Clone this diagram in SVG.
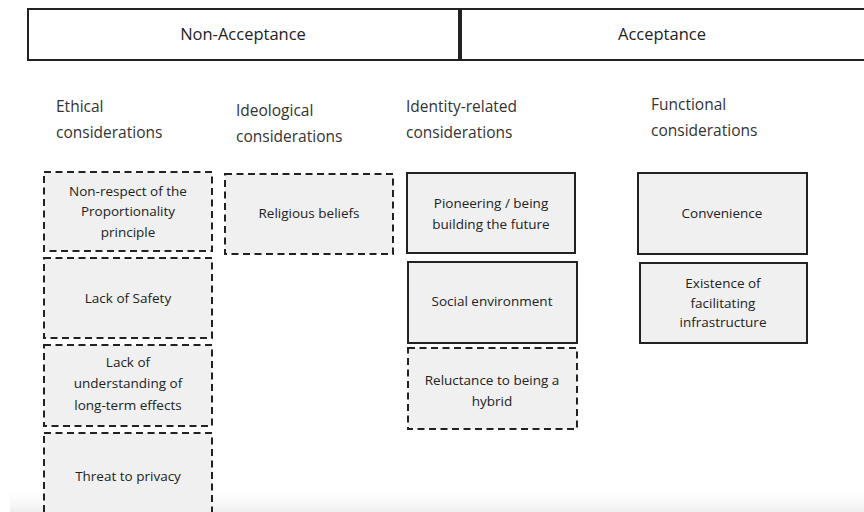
<svg xmlns="http://www.w3.org/2000/svg" width="864" height="512" viewBox="0 0 864 512">
<style>
text{font-family:"Open Sans","Liberation Sans",sans-serif;fill:#222;}
.hdr{font-size:16.5px;text-anchor:middle;}
.col{font-size:15.5px;fill:#333;}
.lbl{font-size:13.5px;text-anchor:middle;}
.hbox{fill:#fff;stroke:#222;stroke-width:2;}
.solid{fill:#f0f0f0;stroke:#222;stroke-width:2;}
.dash{fill:#f0f0f0;stroke:#222;stroke-width:2;stroke-dasharray:7 4.5;}
</style>
<defs>
<linearGradient id="rule" x1="0" y1="0" x2="1" y2="0">
<stop offset="0" stop-color="#555"/>
<stop offset="0.25" stop-color="#666"/>
<stop offset="0.4" stop-color="#aaa"/>
<stop offset="0.6" stop-color="#888"/>
<stop offset="1" stop-color="#333"/>
</linearGradient>
<linearGradient id="fade" x1="0" y1="0" x2="0" y2="1">
<stop offset="0" stop-color="#fff" stop-opacity="0"/>
<stop offset="1" stop-color="#eee"/>
</linearGradient>
</defs>
<rect x="0" y="0" width="864" height="512" fill="#fff"/>
<rect x="10" y="486" width="854" height="26" fill="url(#fade)"/>

<g id="header-non-acceptance">
<rect class="hbox" x="28" y="9" width="431" height="51"/>
<text class="hdr" x="243" y="40">Non-Acceptance</text>
</g>
<g id="header-acceptance">
<rect class="hbox" x="461" y="9" width="410" height="51"/>
<text class="hdr" x="662" y="40">Acceptance</text>
</g>
<line x1="28" y1="69" x2="864" y2="69" stroke="url(#rule)" stroke-width="2"/>

<g id="col-ethical">
<text class="col" x="56" y="112">Ethical</text>
<text class="col" x="56" y="138">considerations</text>
</g>
<g id="col-ideological">
<text class="col" x="236" y="116">Ideological</text>
<text class="col" x="236" y="142">considerations</text>
</g>
<g id="col-identity">
<text class="col" x="406" y="112">Identity-related</text>
<text class="col" x="406" y="138">considerations</text>
</g>
<g id="col-functional">
<text class="col" x="651" y="110">Functional</text>
<text class="col" x="651" y="136">considerations</text>
</g>

<g id="n-proportionality">
<rect class="dash" x="44" y="172" width="168" height="79"/>
<text class="lbl" x="128" y="196">Non-respect of the</text>
<text class="lbl" x="128" y="216">Proportionality</text>
<text class="lbl" x="128" y="237">principle</text>
</g>
<g id="n-safety">
<rect class="dash" x="44" y="258" width="168" height="80"/>
<text class="lbl" x="128" y="303">Lack of Safety</text>
</g>
<g id="n-longterm">
<rect class="dash" x="44" y="345" width="168" height="81"/>
<text class="lbl" x="128" y="367">Lack of</text>
<text class="lbl" x="128" y="388">understanding of</text>
<text class="lbl" x="128" y="410">long-term effects</text>
</g>
<g id="n-privacy">
<rect class="dash" x="44" y="433" width="168" height="90"/>
<text class="lbl" x="128" y="481">Threat to privacy</text>
</g>

<g id="n-religious">
<rect class="dash" x="225" y="174" width="168" height="80"/>
<text class="lbl" x="309" y="218">Religious beliefs</text>
</g>

<g id="n-pioneering">
<rect class="solid" x="407" y="173" width="168" height="80"/>
<text class="lbl" x="491" y="208">Pioneering / being</text>
<text class="lbl" x="491" y="229">building the future</text>
</g>
<g id="n-social">
<rect class="solid" x="408" y="262" width="169" height="81"/>
<text class="lbl" x="492" y="306">Social environment</text>
</g>
<g id="n-hybrid">
<rect class="dash" x="408" y="348" width="169" height="81"/>
<text class="lbl" x="492" y="385">Reluctance to being a</text>
<text class="lbl" x="492" y="406">hybrid</text>
</g>

<g id="n-convenience">
<rect class="solid" x="638" y="173" width="169" height="81"/>
<text class="lbl" x="722" y="218">Convenience</text>
</g>
<g id="n-infrastructure">
<rect class="solid" x="640" y="263" width="167" height="80"/>
<text class="lbl" x="723" y="288">Existence of</text>
<text class="lbl" x="723" y="308">facilitating</text>
<text class="lbl" x="723" y="327">infrastructure</text>
</g>

<g id="connectors"></g>
</svg>
